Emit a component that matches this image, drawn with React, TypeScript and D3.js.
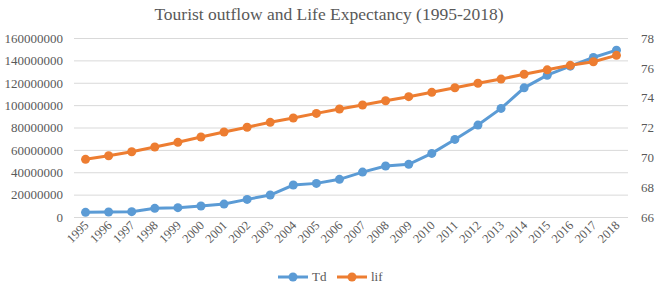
import React from "react";
import * as d3 from "d3";

const years = ["1995","1996","1997","1998","1999","2000","2001","2002","2003","2004","2005","2006","2007","2008","2009","2010","2011","2012","2013","2014","2015","2016","2017","2018"];
const td = [4.6e6,4.9e6,5.2e6,8.2e6,8.8e6,10.3e6,12e6,16.2e6,20.1e6,29e6,30.5e6,34.1e6,40.6e6,46e6,47.5e6,57.3e6,69.8e6,82.6e6,97.5e6,115.9e6,127.2e6,135.3e6,143e6,149.6e6];
const lif = [69.9,70.14,70.41,70.73,71.04,71.4,71.73,72.05,72.38,72.67,72.98,73.27,73.54,73.83,74.1,74.39,74.7,75.0,75.28,75.6,75.9,76.2,76.44,76.87];
const leftTicks = [0,20000000,40000000,60000000,80000000,100000000,120000000,140000000,160000000];
const rightTicks = [66,68,70,72,74,76,78];

const W = 660, H = 287;
const FONT = "'Liberation Serif', 'Times New Roman', serif";
const TXT = "#595959";
const BLUE = "#5B9BD5";
const ORANGE = "#ED7D31";

export default function App() {
  const x = d3.scaleBand<string>().domain(years).range([74, 628]);
  const yL = d3.scaleLinear().domain([0, 160000000]).range([217.5, 38.5]);
  const yR = d3.scaleLinear().domain([66, 78]).range([217.5, 38.5]);
  const cx = (y: string) => (x(y) as number) + x.bandwidth() / 2;
  const lineL = d3.line<number>().x((_, i) => cx(years[i])).y((d) => yL(d));
  const lineR = d3.line<number>().x((_, i) => cx(years[i])).y((d) => yR(d));

  return (
    <svg width={W} height={H} style={{ position: "absolute", left: 0, top: 0, background: "#fff" }} fontFamily={FONT}>
      <text x={329} y={20} textAnchor="middle" fontSize={17.5} fill={TXT}>
        Tourist outflow and Life Expectancy (1995-2018)
      </text>
      {leftTicks.map((t) => (
        <g key={t}>
          <line x1={74} x2={628} y1={yL(t)} y2={yL(t)} stroke="#d9d9d9" strokeWidth={1} />
          <text x={63} y={yL(t)} dy="0.33em" textAnchor="end" fontSize={13} fill={TXT}>{t}</text>
        </g>
      ))}
      {rightTicks.map((t) => (
        <text key={t} x={641} y={yR(t)} dy="0.33em" textAnchor="start" fontSize={13} fill={TXT}>{t}</text>
      ))}
      {years.map((yr) => (
        <text key={yr} transform={`translate(${cx(yr) + 4},${226}) rotate(-45)`} textAnchor="end" fontSize={12.5} fill={TXT}>{yr}</text>
      ))}
      <path d={lineL(td) || ""} fill="none" stroke={BLUE} strokeWidth={3} />
      {td.map((v, i) => <circle key={"b" + i} cx={cx(years[i])} cy={yL(v)} r={4.5} fill={BLUE} />)}
      <path d={lineR(lif) || ""} fill="none" stroke={ORANGE} strokeWidth={3} />
      {lif.map((v, i) => <circle key={"o" + i} cx={cx(years[i])} cy={yR(v)} r={4.5} fill={ORANGE} />)}
      <g>
        <line x1={278} x2={308} y1={277} y2={277} stroke={BLUE} strokeWidth={3} />
        <circle cx={293} cy={277} r={4.5} fill={BLUE} />
        <text x={312} y={277} dy="0.33em" fontSize={13} fill={TXT}>Td</text>
        <line x1={337} x2={367} y1={277} y2={277} stroke={ORANGE} strokeWidth={3} />
        <circle cx={352} cy={277} r={4.5} fill={ORANGE} />
        <text x={371} y={277} dy="0.33em" fontSize={13} fill={TXT}>lif</text>
      </g>
    </svg>
  );
}
